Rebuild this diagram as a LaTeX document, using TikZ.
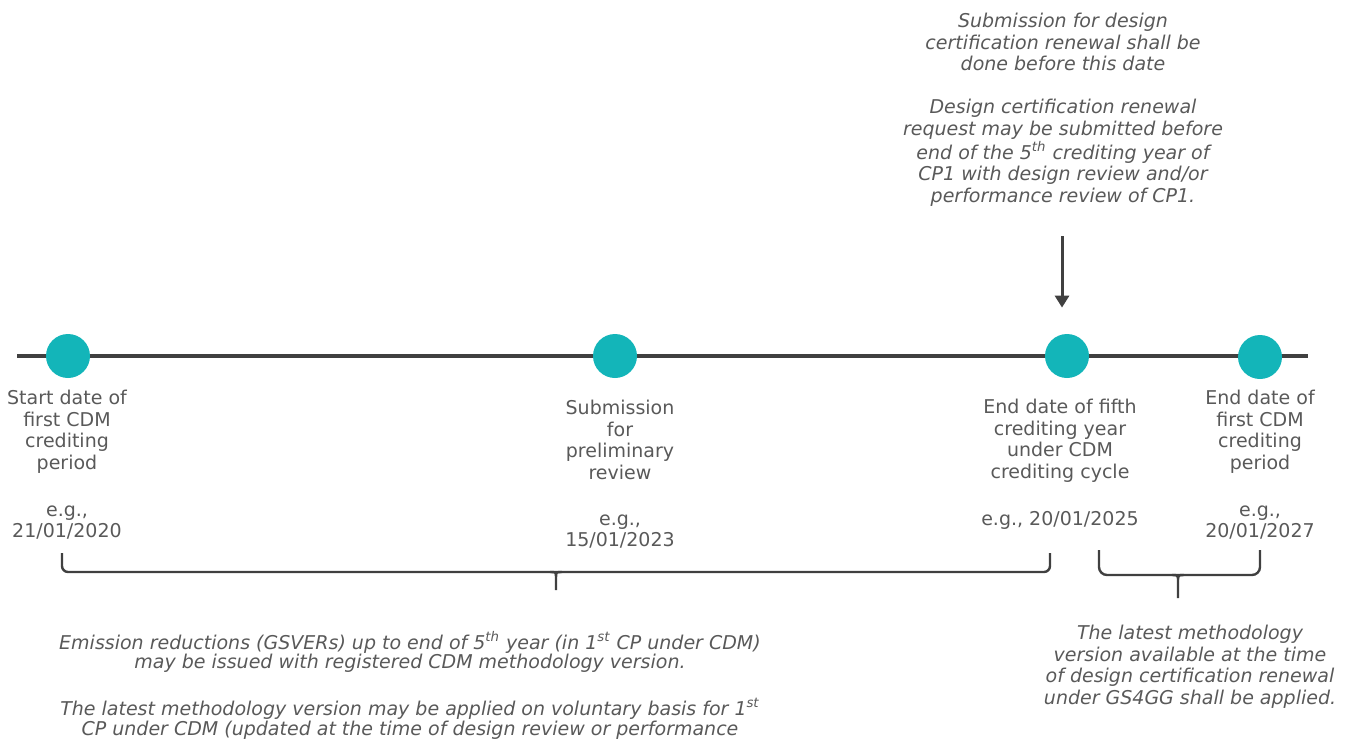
\documentclass[tikz,border=0pt]{standalone}
\usepackage{fontspec}
\setmainfont{DejaVu Sans}
\usetikzlibrary{arrows.meta}
\definecolor{milecyan}{HTML}{13B5B9}
\definecolor{textgray}{HTML}{595959}
\definecolor{linegray}{HTML}{404040}
\tikzset{
milestone/.style={circle, fill=milecyan, minimum size=22pt, inner sep=0pt},
caption/.style={align=center, text=textgray, inner sep=0pt, anchor=north, font=\fontsize{9.5}{10.75}\selectfont},
note/.style={caption, font=\fontsize{9.5}{10.75}\selectfont\itshape},
bracket/.style={draw=linegray, line width=1.2pt, rounded corners=3pt},
pointer/.style={draw=linegray, line width=1.5pt, -{Triangle[length=6pt,width=7pt]}, shorten >=13pt}
}

\begin{document}
\begin{tikzpicture}[x=0.5pt,y=-0.5pt]
\useasboundingbox (0,0) rectangle (1347,738);
% timeline
\coordinate (tl) at (17,356);
\coordinate (tr) at (1308,356);
\draw[linegray, line width=1.6pt] (tl) -- (tr);
\node[milestone] (start) at (68,356) {};
\node[milestone] (prelim) at (615,356) {};
\node[milestone] (fifth) at (1067,356) {};
\node[milestone] (end) at (1260,357) {};

% captions under the milestones
\node[caption] (startlbl) at (67,390) {Start date of\\first CDM\\crediting\\period};
\node[caption] (startdate) at (67,505) {e.g.,\\21/01/2020};
\node[caption] (prelimlbl) at (620,400) {Submission\\for\\preliminary\\review};
\node[caption] (prelimdate) at (620,514) {e.g.,\\15/01/2023};
\node[caption] (fifthlbl) at (1060,399) {End date of fifth\\crediting year\\under CDM\\crediting cycle};
\node[caption] (fifthdate) at (1060,511) {e.g., 20/01/2025};
\node[caption] (endlbl) at (1260,390) {End date of\\first CDM\\crediting\\period};
\node[caption] (enddate) at (1260,505) {e.g.,\\20/01/2027};

% renewal note and arrow
\node[note] (renewal) at (1063,13) {Submission for design\\certification renewal shall be\\done before this date\\[10.75pt]Design certification renewal\\request may be submitted before\\end of the 5\textsuperscript{th} crediting year of\\CP1 with design review and/or\\performance review of CP1.};
\coordinate (arrtop) at (1062,236);
\draw[pointer] (arrtop) -- (arrtop |- fifth.north);

% braces
\draw[bracket] (62,553) -- (62,572) -- (1050,572) -- (1050,553);
\draw[bracket, rounded corners=0pt] (550,572) .. controls (556,572) .. (556,578) -- (556,590) (562,572) .. controls (556,572) .. (556,578);
\draw[bracket, rounded corners=4pt] (1099,550) -- (1099,575) -- (1260,575) -- (1260,550);
\draw[bracket, rounded corners=0pt] (1172,575) .. controls (1178,575) .. (1178,582) -- (1178,598) (1184,575) .. controls (1178,575) .. (1178,582);

% notes under the braces
\node[note, font=\fontsize{9.5}{9.75}\selectfont\itshape] (cpone) at (410,631) {Emission reductions (GSVERs) up to end of 5\textsuperscript{th} year (in 1\textsuperscript{st} CP under CDM)\\may be issued with registered CDM methodology version.\\[12pt]The latest methodology version may be applied on voluntary basis for 1\textsuperscript{st}\\CP under CDM (updated at the time of design review or performance};
\node[note] (gsgg) at (1190,625) {The latest methodology\\version available at the time\\of design certification renewal\\under GS4GG shall be applied.};
\end{tikzpicture}
\end{document}
